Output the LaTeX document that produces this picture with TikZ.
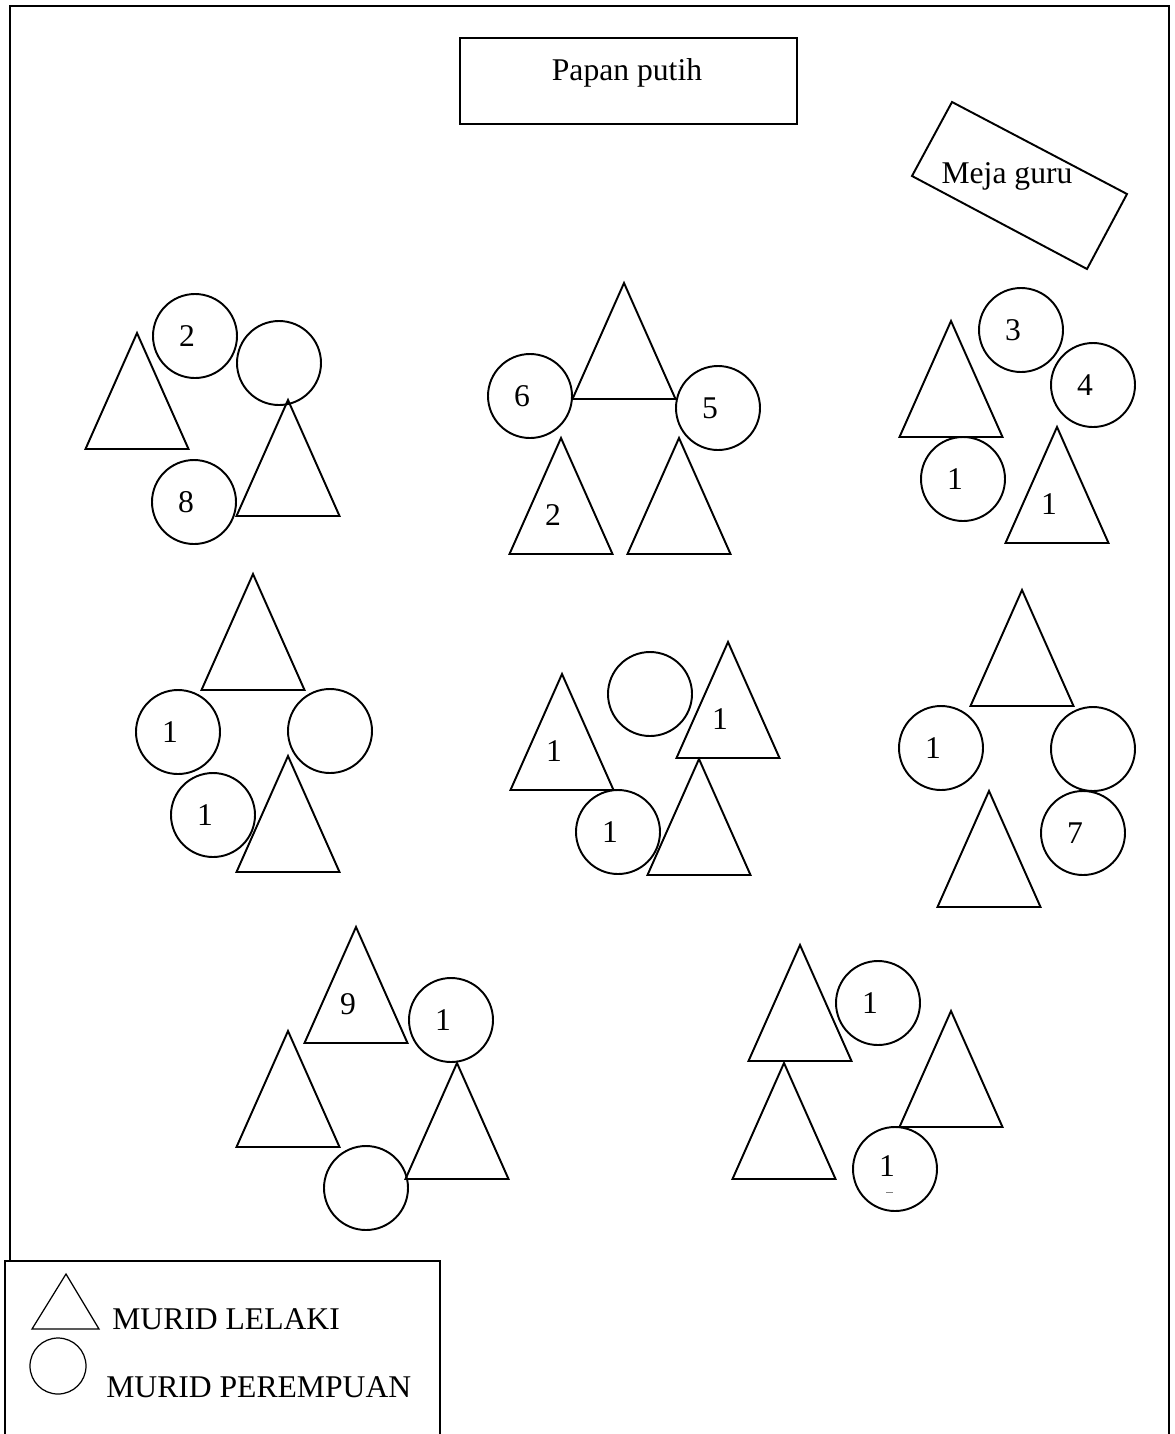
\documentclass[tikz,border=0pt]{standalone}
\usepackage{fontspec}
\setmainfont{Liberation Serif}
\begin{document}
\begin{tikzpicture}[x=0.02cm,y=-0.02cm,
  seat/.style={line width=1.1pt},
  every node/.style={inner sep=0pt,font=\fontsize{18}{22}\selectfont}]
  \useasboundingbox (0,0) rectangle (1175,1434);
  \draw[line width=1.2pt] (10,1261) -- (10,6) -- (1169,6) -- (1169,1434);
  \draw[line width=1.1pt] (460,38) rectangle (797,124);
  \node (papan) [anchor=base] at (627,80) {Papan putih};
  \draw[seat] (952,102) -- (1127,194) -- (1087,269) -- (912,176) -- cycle;
  \node (meja) [anchor=base] at (1007,183) {Meja guru};
  \foreach \x/\y in {137/333,288/400,624/283,561/438,679/438,951/321,1057/427,
    253/574,288/756,562/674,728/642,699/759,1022/590,989/791,
    356/927,288/1031,457/1063,800/945,784/1063,951/1011}
    \draw[seat] (\x,\y) -- ++(-51.5,116) -- ++(103,0) -- cycle;
  \foreach \x/\y/\n [count=\i] in {561/438/2,1057/427/1,562/674/1,728/642/1,356/927/9}
    \node (lt\i) at (\x-8,\y+77) {\n};
  \foreach \x/\y in {195/336,279/363,194/502,530/396,718/408,1021/330,1093/385,963/479,
    178/732,330/731,213/815,650/694,618/832,941/748,1093/749,1083/833,
    451/1020,366/1188,878/1003,895/1169}
    \draw[seat] (\x,\y) circle (42);
  \foreach \x/\y/\n [count=\i] in {195/336/2,194/502/8,530/396/6,718/408/5,1021/330/3,
    1093/385/4,963/479/1,178/732/1,213/815/1,618/832/1,941/748/1,1083/833/7,
    451/1020/1,878/1003/1,895/1166/1}
    \node (lp\i) at (\x-8,\y) {\n};
  \draw[gray,thin] (886,1192) -- (893,1192);
  \draw[line width=1.1pt] (5,1434) -- (5,1261) -- (440,1261) -- (440,1434);
  \draw[line width=0.7pt] (66,1274) -- (32,1329) -- (99,1329) -- cycle;
  \node (lelaki) [anchor=base west] at (112,1329) {MURID LELAKI};
  \draw[line width=0.7pt] (58,1366) circle (28);
  \node (perempuan) [anchor=base west] at (106,1397) {MURID PEREMPUAN};
\end{tikzpicture}
\end{document}
